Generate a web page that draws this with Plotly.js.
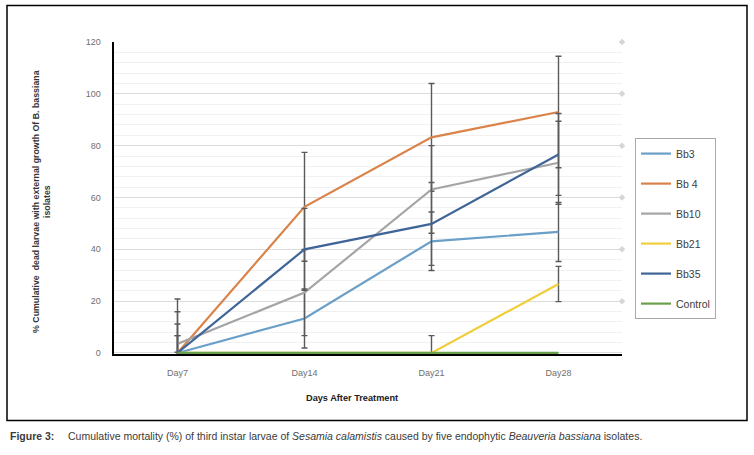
<!DOCTYPE html>
<html>
<head>
<meta charset="utf-8">
<script src="https://cdn.plot.ly/plotly-3.0.1.min.js"></script>
<style>html,body{margin:0;padding:0;background:#fff;}#chart{width:754px;height:455px;}</style>
</head>
<body>
<div id="chart"></div>
<script>
// ---- data ----
const categories = ['Day7', 'Day14', 'Day21', 'Day28'];
const seriesNames = ['Bb3', 'Bb 4', 'Bb10', 'Bb21', 'Bb35', 'Control'];
const bb3 = [0, 13.3, 43.1, 46.7];
const bb4 = [0, 56.4, 83.2, 93.0];
const bb10 = [3.5, 23.3, 63.1, 73.4];
const bb21 = [0, 0, 0, 26.6];
const bb35 = [0, 40.0, 49.8, 76.6];
const control = [0, 0, 0, 0];
const bb3Err = [11.2, 11.4, 11.3, 11.4];
const bb4Err = [20.8, 21.0, 20.8, 21.5];
const bb10Err = [3.2, 16.6, 16.9, 16.0];
const bb21Err = [6.7, 0, 6.7, 6.8];
const bb35Err = [15.9, 15.8, 16.0, 15.8];
const yTicks = [0, 20, 40, 60, 80, 100, 120];

// ---- styling ----
const FONT = '"Liberation Sans", Arial, sans-serif';
const colors = ['#6a9fc8', '#d9834a', '#a5a5a5', '#f0cd3a', '#3f6598', '#6aa04a'];
const values = [bb3, bb4, bb10, bb21, bb35, control];
const errs = [bb3Err, bb4Err, bb10Err, bb21Err, bb35Err, null];

const L = 114, R = 622, T = 41.7, B = 354.4;
const px2x = p => (p - L) / (R - L);
const py2y = p => (B - p) / (B - T);

const traces = values.map((v, i) => {
  const t = {
    type: 'scatter', mode: 'lines',
    x: categories, y: v, name: seriesNames[i],
    legendgroup: 'g' + i,
    line: {color: colors[i], width: 2.2},
    hoverinfo: 'skip'
  };
  if (errs[i]) {
    t.error_y = {type: 'data', array: errs[i], visible: true, color: '#5a5a5a', thickness: 1.4, width: 3};
  }
  return t;
});

// light diamond markers at the right end of the major gridlines
traces.push({
  type: 'scatter', mode: 'markers',
  x: yTicks.slice(1).map(() => categories.length - 0.5),
  y: yTicks.slice(1),
  xaxis: 'x2',
  marker: {symbol: 'diamond', size: 5, color: '#d6d6d6'},
  showlegend: false, cliponaxis: false, hoverinfo: 'skip'
});

const layout = {
  width: 754, height: 455,
  margin: {l: L, r: 754 - R, t: T, b: 455 - B, pad: 0},
  paper_bgcolor: '#fff', plot_bgcolor: '#fff',
  showlegend: true,
  xaxis: {
    type: 'category', range: [-0.5, categories.length - 0.5],
    showgrid: false, zeroline: false,
    showline: true, linecolor: '#000', linewidth: 2,
    ticks: 'outside', ticklen: 9, tickcolor: 'rgba(0,0,0,0)',
    tickfont: {family: FONT, size: 9, color: '#6f6f6f'},
    layer: 'below traces', fixedrange: true
  },
  xaxis2: {
    overlaying: 'x', range: [-0.5, categories.length - 0.5], visible: false, fixedrange: true
  },
  yaxis: {
    range: [-0.4, 120], tickvals: yTicks,
    showgrid: true, gridcolor: '#dcdcdc', gridwidth: 1,
    minor: {dtick: 4, showgrid: true, gridcolor: '#f1f1f1', gridwidth: 1},
    zeroline: false,
    showline: true, linecolor: '#000', linewidth: 2.5,
    ticks: 'outside', ticklen: 9, tickcolor: 'rgba(0,0,0,0)',
    tickfont: {family: FONT, size: 9, color: '#6f6f6f'},
    layer: 'below traces', fixedrange: true
  },
  legend: {
    x: px2x(635), y: py2y(138), xanchor: 'left', yanchor: 'top',
    bordercolor: '#a9a9a9', borderwidth: 1, bgcolor: '#fff',
    font: {family: FONT, size: 10.5, color: '#404040'},
    traceorder: 'grouped', tracegroupgap: 11,
    itemwidth: 30, entrywidth: 60
  },
  annotations: [
    {
      text: '% Cumulative  dead larvae with external growth Of B. bassiana<br>isolates',
      xref: 'paper', yref: 'paper', x: px2x(42), y: py2y(202),
      xanchor: 'center', yanchor: 'middle', textangle: -90, showarrow: false,
      font: {family: FONT, size: 8.8, color: '#333', weight: 'bold'}
    },
    {
      text: '<b>Days After Treatment</b>',
      xref: 'paper', yref: 'paper', x: px2x(352), y: py2y(398),
      xanchor: 'center', yanchor: 'middle', showarrow: false,
      font: {family: FONT, size: 9.2, color: '#222'}
    },
    {
      text: 'Figure 3:',
      xref: 'paper', yref: 'paper', x: px2x(8), y: py2y(437),
      xanchor: 'left', yanchor: 'middle', showarrow: false,
      font: {family: FONT, size: 10.5, color: '#3a3a3a', weight: 'bold'}
    },
    {
      text: 'Cumulative mortality (%) of third instar larvae of <i>Sesamia calamistis</i> caused by five endophytic <i>Beauveria bassiana</i> isolates.',
      xref: 'paper', yref: 'paper', x: px2x(66), y: py2y(437),
      xanchor: 'left', yanchor: 'middle', showarrow: false,
      font: {family: FONT, size: 10.5, color: '#3a3a3a'}
    }
  ],
  shapes: [
    {
      type: 'rect', xref: 'paper', yref: 'paper',
      x0: px2x(7), x1: px2x(747), y0: py2y(5), y1: py2y(421),
      line: {color: '#000', width: 1.5}, fillcolor: 'rgba(0,0,0,0)', layer: 'below'
    }
  ]
};

Plotly.newPlot('chart', traces, layout, {displayModeBar: false, staticPlot: true});
</script>
</body>
</html>
